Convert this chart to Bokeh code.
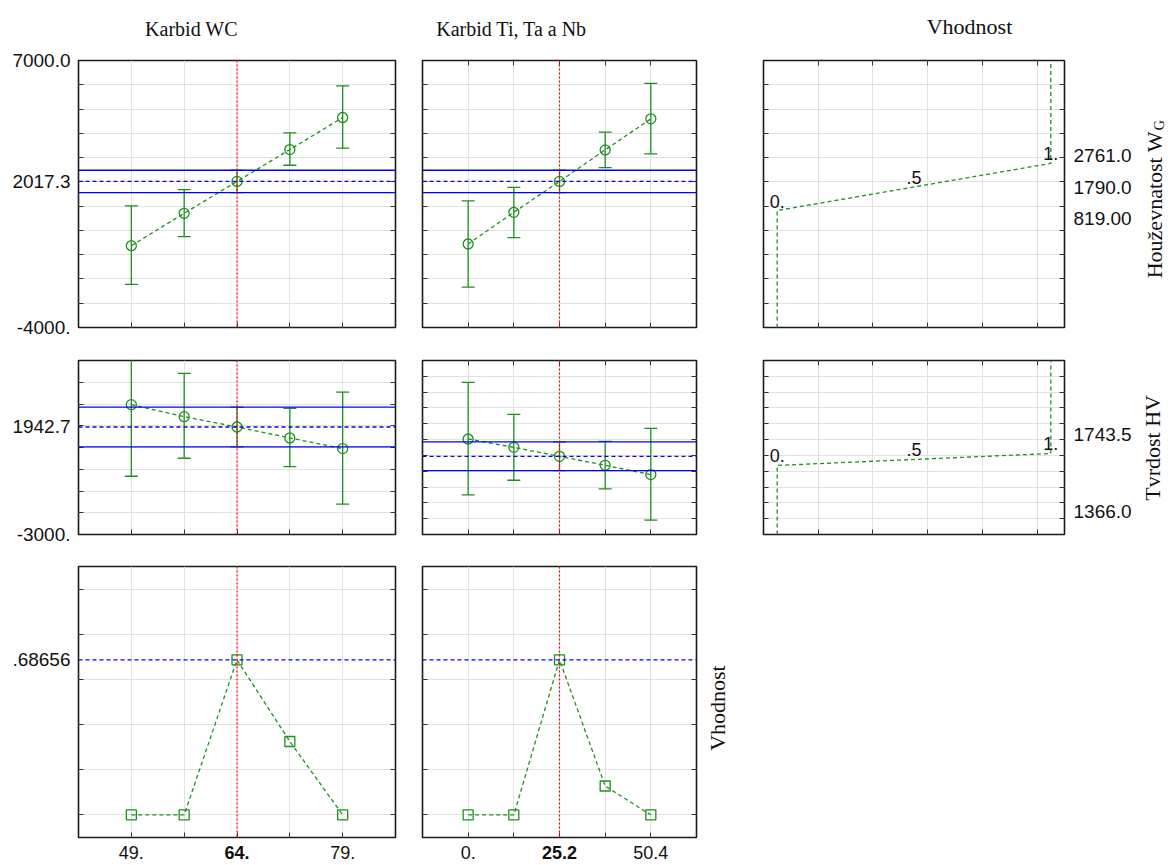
import math
from bokeh.plotting import figure
from bokeh.models import (LinearAxis, FixedTicker, Range1d, Span, Grid,
                          CustomJSTickFormatter)
from bokeh.layouts import column, row
from bokeh.embed import file_html
from bokeh.resources import INLINE
from bokeh.core.properties import value

# ---------------- data ----------------
factor_titles = ["Karbid WC", "Karbid Ti, Ta a Nb"]
desir_title = "Vhodnost"
resp_hg_title = "Houževnatost W"
resp_hg_sub = "G"
resp_hv_title = "Tvrdost HV"
resp_vh_title = "Vhodnost"

wc_levels = [49.0, 56.5, 64.0, 71.5, 79.0]
ti_levels = [0.0, 12.6, 25.2, 37.8, 50.4]
wc_current = 64.0
ti_current = 25.2
wc_tick_values = [49.0, 64.0, 79.0]
wc_tick_labels = ["49.", "64.", "79."]
ti_tick_values = [0.0, 25.2, 50.4]
ti_tick_labels = ["0.", "25.2", "50.4"]

# Houževnatost W_G
hg_pred = 2017.3
hg_ci = [1556.0, 2478.0]
hg_wc_mean = [-630.0, 705.0, 2017.3, 3331.0, 4651.0]
hg_wc_lo = [-2224.0, -257.0, 1556.0, 2685.0, 3386.0]
hg_wc_hi = [1008.0, 1681.0, 2478.0, 4019.0, 5957.0]
hg_ti_mean = [-560.0, 746.0, 2017.3, 3317.0, 4596.0]
hg_ti_lo = [-2334.0, -299.0, 1556.0, 2589.0, 3152.0]
hg_ti_hi = [1214.0, 1777.0, 2478.0, 4046.0, 6054.0]
hg_axis_values = [7000.0, 2017.3, -4000.0]
hg_axis_labels = ["7000.0", "2017.3", "-4000."]
hg_desir_y = [819.0, 1790.0, 2761.0]
hg_desir_labels = ["819.00", "1790.0", "2761.0"]

# Tvrdost HV
hv_pred = 1942.7
hv_ci = [1033.0, 2853.0]
hv_wc_mean = [2968.0, 2418.0, 1942.7, 1439.0, 949.0]
hv_wc_lo = [-321.0, 505.0, 1033.0, 123.0, -1606.0]
hv_wc_hi = [6257.0, 4406.0, 2853.0, 2800.0, 3550.0]
hv_ti_mean = [3038.0, 2511.0, 1942.7, 1375.0, 786.0]
hv_ti_lo = [-496.0, 429.0, 1033.0, -118.0, -2095.0]
hv_ti_hi = [6613.0, 4593.0, 2853.0, 2889.0, 3710.0]
hv_axis_values = [1942.7, -3000.0]
hv_axis_labels = ["1942.7", "-3000."]
hv_desir_y = [1366.0, 1743.5, 2121.0]
hv_desir_labels = ["1743.5", "1366.0"]

# Vhodnost (overall desirability)
vh_pred = 0.68656
vh_wc = [0.0, 0.0, 0.68656, 0.325, 0.0]
vh_ti = [0.0, 0.0, 0.68656, 0.128, 0.0]
vh_axis_values = [0.68656]
vh_axis_labels = [".68656"]

desir_x = [0.0, 0.5, 1.0]
desir_marks = ["0.", ".5", "1."]

# ---------------- scales / layout ----------------
WC_RANGE = (41.5, 86.5)
TI_RANGE = (-12.6, 63.0)
D_RANGE = (-0.05, 1.05)
D_GRID = [0.15, 0.35, 0.55, 0.75, 0.95]
HG_RANGE = (-4000.0, 7000.0)
HG_GRID = [float(v) for v in range(-3000, 7000, 1000)]
HV_RANGE_WC = (-3000.0, 5000.0)
HV_GRID_WC = [float(v) for v in range(-2000, 5000, 1000)]
HV_RANGE_TI = (-3000.0, 8000.0)
HV_GRID_TI = [float(v) for v in range(-2000, 8000, 1000)]
VH_RANGE = (-0.1, 1.1)
VH_GRID = [0.0, 0.2, 0.4, 0.6, 0.8, 1.0]

TOTAL_W = 1168
TITLE_H = 44
COL_BOX = [(0, 400), (400, 720), (720, 1135)]
COL_BOX_LAST = [(0, 400), (400, 700)]
COL_FRAME = [(78, 395), (422, 696), (763, 1064)]
ROW_BOX = [(TITLE_H, 343), (343, 550), (550, 840)]
ROW_FRAME = [(60, 327), (360, 534), (566, 837)]
XLAB_BOX = (840, 863)

GREEN = "#1f8f1f"
BLUE = "#0000ff"
RED = "#ff0000"
SANS = "Liberation Sans"
SERIF = "Liberation Serif"
TXT = "#111111"
LW = 1.3


def px_y(py, ri, yr):
    t, b = ROW_FRAME[ri]
    return yr[1] - (py - t) / (b - t) * (yr[1] - yr[0])


def make_fig(box, frame, rbox, rframe, xr, yr, xgrid, ygrid):
    p = figure(width=box[1] - box[0], height=rbox[1] - rbox[0],
               x_range=Range1d(*xr), y_range=Range1d(*yr),
               x_axis_type=None, y_axis_type=None,
               toolbar_location=None, output_backend="svg",
               min_border_left=frame[0] - box[0], min_border_right=box[1] - frame[1],
               min_border_top=rframe[0] - rbox[0], min_border_bottom=rbox[1] - rframe[1])
    p.outline_line_color = "#1a1a1a"
    p.outline_line_width = 1.6
    p.background_fill_color = "white"
    p.border_fill_color = "white"
    p.add_layout(Grid(dimension=0, ticker=FixedTicker(ticks=list(xgrid)),
                      grid_line_color="#e2e2e2", grid_line_width=1))
    p.add_layout(Grid(dimension=1, ticker=FixedTicker(ticks=list(ygrid)),
                      grid_line_color="#e2e2e2", grid_line_width=1))
    return p


def text_strip(x0, x1, y0, y1, x_range=None, left=0, right=0):
    p = figure(width=x1 - x0, height=y1 - y0,
               x_range=x_range if x_range is not None else Range1d(x0, x1),
               y_range=Range1d(y1, y0),
               x_axis_type=None, y_axis_type=None,
               toolbar_location=None, output_backend="svg",
               min_border_left=left, min_border_right=right,
               min_border_top=0, min_border_bottom=0)
    p.outline_line_color = None
    p.background_fill_color = "white"
    p.border_fill_color = "white"
    return p


def add_axis(p, side, minor, ticks=(), labels=(), standoff=0):
    ax = LinearAxis(ticker=FixedTicker(ticks=list(ticks), minor_ticks=list(minor)))
    ax.formatter = CustomJSTickFormatter(
        args=dict(vals=list(ticks), labs=list(labels)),
        code="""
        for (let i = 0; i < vals.length; i++) {
            if (Math.abs(vals[i] - tick) <= 1e-9 * (1 + Math.abs(tick))) return labs[i];
        }
        return "";
        """)
    ax.axis_line_color = None
    ax.major_tick_in = 0
    ax.major_tick_out = 0
    ax.minor_tick_in = 5
    ax.minor_tick_out = 0
    ax.minor_tick_line_color = "#333333"
    ax.minor_tick_line_width = 1
    ax.major_label_standoff = standoff
    ax.major_label_text_font = SANS
    ax.major_label_text_font_size = "19px"
    ax.major_label_text_color = TXT
    p.add_layout(ax, side)
    return ax


def add_profile(p, xs, mean, lo, hi):
    p.line(xs, mean, line_color=GREEN, line_width=LW, line_dash="4 3")
    p.segment(x0=xs, y0=lo, x1=xs, y1=hi, line_color=GREEN, line_width=LW)
    p.scatter(xs, hi, marker="dash", size=13, line_color=GREEN, line_width=LW)
    p.scatter(xs, lo, marker="dash", size=13, line_color=GREEN, line_width=LW)
    p.scatter(xs, mean, marker="circle", size=10, fill_color=None,
              line_color=GREEN, line_width=LW)


def add_pred(p, pred, ci=None):
    p.add_layout(Span(location=pred, dimension="width", line_color=BLUE,
                      line_width=LW, line_dash="4 3"))
    if ci is not None:
        for c in ci:
            p.add_layout(Span(location=c, dimension="width", line_color=BLUE,
                              line_width=LW))


def add_current(p, cur):
    p.add_layout(Span(location=cur, dimension="height", line_color=RED,
                      line_width=1.2, line_dash="2 2"))


def add_desir(p, ys, yr):
    lx = [desir_x[0], desir_x[0], desir_x[2], desir_x[2]]
    ly = [yr[0], ys[0], ys[2], yr[1]]
    p.line(lx, ly, line_color=GREEN, line_width=LW, line_dash="4 3")
    p.text(x=desir_x, y=ys, text=desir_marks, text_align="center",
           text_baseline="bottom", y_offset=-3, text_font=value(SANS),
           text_font_size="18px", text_color=TXT)


def put_text(p, x, y, t, size, font=SERIF, align="center", angle=0.0, style="normal"):
    p.text(x=[x], y=[y], text=[t], angle=angle, text_align=align,
           text_baseline="middle", text_font=value(font),
           text_font_size=size, text_font_style=style, text_color=TXT)


# ---------------- titles strip ----------------
T = text_strip(0, TOTAL_W, 0, TITLE_H)
put_text(T, 191, 28.5, factor_titles[0], "20px")
put_text(T, 511, 28.5, factor_titles[1], "20px")
put_text(T, 969, 25.5, desir_title, "22px")

# ---------------- row 0 : Houževnatost ----------------
f00 = make_fig(COL_BOX[0], COL_FRAME[0], ROW_BOX[0], ROW_FRAME[0], WC_RANGE, HG_RANGE, wc_levels, HG_GRID)
add_axis(f00, "left", HG_GRID, hg_axis_values, hg_axis_labels, standoff=8)
add_axis(f00, "right", HG_GRID)
add_axis(f00, "below", wc_levels)
add_pred(f00, hg_pred, hg_ci)
add_current(f00, wc_current)
add_profile(f00, wc_levels, hg_wc_mean, hg_wc_lo, hg_wc_hi)

f01 = make_fig(COL_BOX[1], COL_FRAME[1], ROW_BOX[0], ROW_FRAME[0], TI_RANGE, HG_RANGE, ti_levels, HG_GRID)
add_axis(f01, "left", HG_GRID)
add_axis(f01, "right", HG_GRID)
add_axis(f01, "below", ti_levels)
add_axis(f01, "above", ti_levels)
add_pred(f01, hg_pred, hg_ci)
add_current(f01, ti_current)
add_profile(f01, ti_levels, hg_ti_mean, hg_ti_lo, hg_ti_hi)

f02 = make_fig(COL_BOX[2], COL_FRAME[2], ROW_BOX[0], ROW_FRAME[0], D_RANGE, HG_RANGE, D_GRID, HG_GRID)
add_axis(f02, "left", HG_GRID)
hg_label_pos = [px_y(py, 0, HG_RANGE) for py in (218, 187, 155)]
add_axis(f02, "right", HG_GRID, hg_label_pos, hg_desir_labels, standoff=9)
add_axis(f02, "below", D_GRID)
add_axis(f02, "above", D_GRID)
add_desir(f02, hg_desir_y, HG_RANGE)

L0 = text_strip(COL_BOX[2][1], TOTAL_W, ROW_BOX[0][0], ROW_BOX[0][1])
put_text(L0, 1154, 123, resp_hg_title, "22px", align="right", angle=math.pi / 2)
put_text(L0, 1159, 122, resp_hg_sub, "14px", align="left", angle=math.pi / 2)

# ---------------- row 1 : Tvrdost ----------------
f10 = make_fig(COL_BOX[0], COL_FRAME[0], ROW_BOX[1], ROW_FRAME[1], WC_RANGE, HV_RANGE_WC, wc_levels, HV_GRID_WC)
add_axis(f10, "left", HV_GRID_WC, hv_axis_values, hv_axis_labels, standoff=8)
add_axis(f10, "right", HV_GRID_WC)
add_axis(f10, "below", wc_levels)
add_pred(f10, hv_pred, hv_ci)
add_current(f10, wc_current)
add_profile(f10, wc_levels, hv_wc_mean, hv_wc_lo, hv_wc_hi)

f11 = make_fig(COL_BOX[1], COL_FRAME[1], ROW_BOX[1], ROW_FRAME[1], TI_RANGE, HV_RANGE_TI, ti_levels, HV_GRID_TI)
add_axis(f11, "left", HV_GRID_TI)
add_axis(f11, "right", HV_GRID_TI)
add_axis(f11, "below", ti_levels)
add_axis(f11, "above", ti_levels)
add_pred(f11, hv_pred, hv_ci)
add_current(f11, ti_current)
add_profile(f11, ti_levels, hv_ti_mean, hv_ti_lo, hv_ti_hi)

f12 = make_fig(COL_BOX[2], COL_FRAME[2], ROW_BOX[1], ROW_FRAME[1], D_RANGE, HV_RANGE_TI, D_GRID, HV_GRID_TI)
add_axis(f12, "left", HV_GRID_TI)
hv_label_pos = [px_y(py, 1, HV_RANGE_TI) for py in (434, 511)]
add_axis(f12, "right", HV_GRID_TI, hv_label_pos, hv_desir_labels, standoff=9)
add_axis(f12, "below", D_GRID)
add_axis(f12, "above", D_GRID)
add_desir(f12, hv_desir_y, HV_RANGE_TI)

L1 = text_strip(COL_BOX[2][1], TOTAL_W, ROW_BOX[1][0], ROW_BOX[1][1])
put_text(L1, 1152, 447, resp_hv_title, "22px", align="center", angle=math.pi / 2)

# ---------------- row 2 : Vhodnost ----------------
f20 = make_fig(COL_BOX_LAST[0], COL_FRAME[0], ROW_BOX[2], ROW_FRAME[2], WC_RANGE, VH_RANGE, wc_levels, VH_GRID)
add_axis(f20, "left", VH_GRID, vh_axis_values, vh_axis_labels, standoff=8)
add_axis(f20, "right", VH_GRID)
add_axis(f20, "below", wc_levels)
add_pred(f20, vh_pred)
add_current(f20, wc_current)
f20.line(wc_levels, vh_wc, line_color=GREEN, line_width=LW, line_dash="4 3")
f20.scatter(wc_levels, vh_wc, marker="square", size=10, fill_color=None,
            line_color=GREEN, line_width=LW)

f21 = make_fig(COL_BOX_LAST[1], COL_FRAME[1], ROW_BOX[2], ROW_FRAME[2], TI_RANGE, VH_RANGE, ti_levels, VH_GRID)
add_axis(f21, "left", VH_GRID)
add_axis(f21, "right", VH_GRID)
add_axis(f21, "below", ti_levels)
add_pred(f21, vh_pred)
add_current(f21, ti_current)
f21.line(ti_levels, vh_ti, line_color=GREEN, line_width=LW, line_dash="4 3")
f21.scatter(ti_levels, vh_ti, marker="square", size=10, fill_color=None,
            line_color=GREEN, line_width=LW)

L2 = text_strip(COL_BOX_LAST[1][1], 740, ROW_BOX[2][0], ROW_BOX[2][1])
put_text(L2, 717, 701.5, resp_vh_title, "22px", align="center", angle=math.pi / 2)

# ---------------- x tick labels (bottom), current setting in bold ----------------
strips = []
for ci, (fig, vals, labs, cur) in enumerate(((f20, wc_tick_values, wc_tick_labels, wc_current),
                                             (f21, ti_tick_values, ti_tick_labels, ti_current))):
    box = COL_BOX_LAST[ci]
    fr = COL_FRAME[ci]
    s = text_strip(box[0], box[1], XLAB_BOX[0], XLAB_BOX[1], x_range=fig.x_range,
                   left=fr[0] - box[0], right=box[1] - fr[1])
    for v, t in zip(vals, labs):
        put_text(s, v, 852, t, "18px", font=SANS,
                 style="bold" if v == cur else "normal")
    strips.append(s)

layout = column(row(T),
                row(f00, f01, f02, L0),
                row(f10, f11, f12, L1),
                row(f20, f21, L2),
                row(*strips))

with open("out.html", "w") as fh:
    fh.write(file_html(layout, INLINE))
